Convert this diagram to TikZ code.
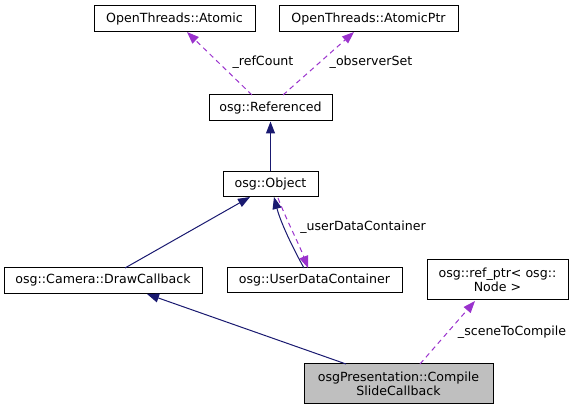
\documentclass[tikz,border=0pt]{standalone}
\usepackage{fontspec}
\setmainfont{DejaVu Sans}
\usetikzlibrary{arrows.meta}
\definecolor{inh}{HTML}{191970}
\definecolor{use}{HTML}{9A32CD}
\definecolor{cur}{HTML}{BFBFBF}
\tikzset{
  box/.style={draw=black, line width=1pt, inner sep=0pt, align=center, font=\fontsize{12.6}{14}\selectfont},
  lbl/.style={inner sep=0pt, font=\fontsize{12.6}{14}\selectfont},
  inhedge/.style={draw=inh, line width=1pt, -{Triangle[length=12pt,width=9pt]}},
  useedge/.style={draw=use, line width=1pt, dash pattern=on 5pt off 4pt, -{Triangle[length=12pt,width=9pt]}},
}
\begin{document}
\begin{tikzpicture}[x=1pt,y=-1pt]
\useasboundingbox (0,0) rectangle (573,411);
\node[box, minimum width=161pt, minimum height=26pt] (atomic) at (174.5,19) {OpenThreads::Atomic};
\node[box, minimum width=179pt, minimum height=26pt] (atomicptr) at (368.5,19) {OpenThreads::AtomicPtr};
\node[box, minimum width=123pt, minimum height=26pt] (ref) at (270.5,108) {osg::Referenced};
\node[box, minimum width=95pt, minimum height=25pt] (obj) at (270.5,184.5) {osg::Object};
\node[box, minimum width=198pt, minimum height=26pt] (draw) at (103,280.5) {osg::Camera::DrawCallback};
\node[box, minimum width=175pt, minimum height=25pt] (udc) at (314.5,280.5) {osg::UserDataContainer};
\node[box, minimum width=141pt, minimum height=40pt] (refptr) at (497.5,280) {osg::ref\_ptr< osg::\\Node >};
\node[box, fill=cur, minimum width=189pt, minimum height=40pt] (comp) at (398.5,384) {osgPresentation::Compile\\SlideCallback};

\coordinate (refA) at (252,95);
\coordinate (refB) at (283,95);
\coordinate (atomicT) at (187,32);
\coordinate (atomicptrT) at (354,32);
\draw[useedge] (refA) -- (atomicT);
\draw[useedge] (refB) -- (atomicptrT);
\node[lbl] (l1) at (263,62) {\_refCount};
\node[lbl] (l2) at (371,62) {\_observerSet};

\draw[inhedge] (obj.north) -- (ref.south);

\coordinate (drawTop) at (125,268);
\coordinate (objT1) at (250,197);
\draw[inhedge] (drawTop) -- (objT1);

\coordinate (udcTop) at (304,268);
\coordinate (objT2) at (274,197);
\draw[inhedge] (udcTop) .. controls (295,252) and (281,224) .. (objT2);

\coordinate (objB) at (278,198);
\coordinate (udcT) at (308,268);
\draw[useedge] (objB) .. controls (286,219) and (299,244) .. (udcT);
\node[lbl] (l3) at (363,227) {\_userDataContainer};

\coordinate (compA) at (346,364);
\coordinate (drawT) at (147,294);
\draw[inhedge] (compA) -- (drawT);

\coordinate (compB) at (420,364);
\coordinate (refptrT) at (475,301);
\draw[useedge] (compB) -- (refptrT);
\node[lbl] (l4) at (512,332) {\_sceneToCompile};
\end{tikzpicture}
\end{document}
